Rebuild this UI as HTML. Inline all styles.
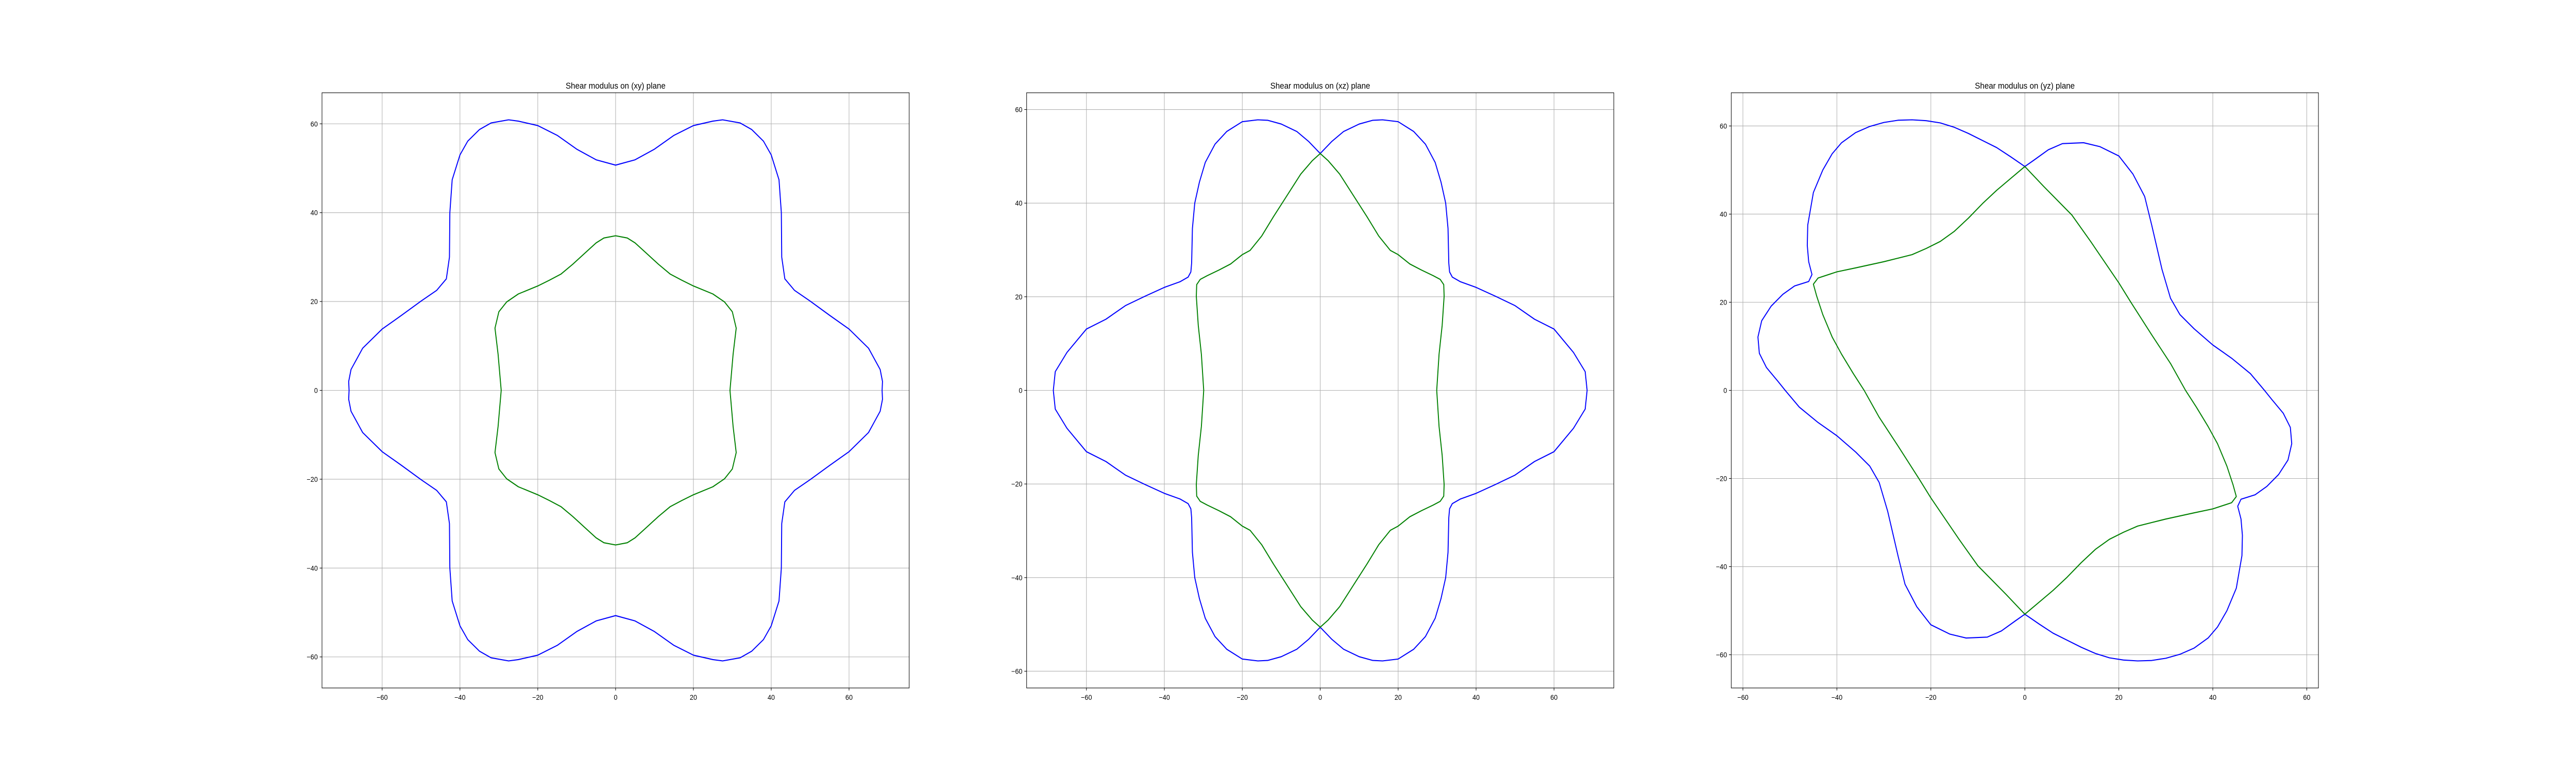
<!DOCTYPE html>
<html><head><meta charset="utf-8"><style>
html,body{margin:0;padding:0;background:#fff;overflow:hidden;width:100%;height:100%;}
svg{display:block;width:100vw;height:100vh;font-family:"Liberation Sans","DejaVu Sans",sans-serif;}
</style></head><body>
<svg id="fig" viewBox="0 0 5500 1500" preserveAspectRatio="none" xmlns="http://www.w3.org/2000/svg">
<rect x="0" y="0" width="5500" height="1500" fill="#fff"/>
</svg>
<script>
// ---- data (data units) ----
const xyBlueQX = [68.5,68.6,68,65,60,55,50,46,43.5,42.7,42.6,42,40,38,35,32,27.5,25,20,15,10,5,0];
const xyBlueQY = [0,2,4.7,9.5,13.8,16.9,20.1,22.5,25.1,30,40,47.4,53,56.1,58.7,60.2,60.9,60.6,59.6,57.4,54.3,51.9,50.7];
const xyGreenQX = [29.4,30.2,31,30,28,25,20,17,14,11,8,5,3,0];
const xyGreenQY = [0,8.1,14,17.7,19.9,21.7,23.5,24.8,26.2,28.4,30.8,33.2,34.3,34.8];
const xzBlueQX = [68.5,68,65,60,55,50,45,40,36,33.9,33.2,33,32.8,32.2,31,29.5,27,24,20,16,13.5,10,6,3,0];
const xzBlueQY = [0,4,8.1,13.1,15.2,18.1,20.1,22,23.2,24.2,25.3,27.2,34.6,40,44.5,48.7,52.6,55.3,57.4,57.8,57.7,56.9,55.3,53.2,50.6];
const xzGreenQX = [29.9,30.5,31.3,31.8,31.7,30.8,29,26,23,20,18,15,12,9,5,2,0];
const xzGreenQY = [0,7.7,13.9,20.1,22.6,23.7,24.5,25.7,27,29,29.9,33,37.1,41,46.2,49.1,50.6];
const yzBlueHX = [51,48,44,40,36,33,31,29.2,28,27,25.5,23,20,16,12.5,8,5,2,0,-3,-6,-9,-12,-15,-18,-21,-24,-27,-30,-33,-36,-39,-41,-43,-45,-46.2,-46.3,-46,-45.3,-46,-49,-51.5,-54,-56,-56.8,-56.5,-55,-52.5,-51];
const yzBlueHY = [0,3.8,7.3,10.3,14,17.2,20.9,27.4,32.9,37.5,44,49.1,53.2,55.3,56.2,56,54.6,52.3,50.8,53,55.1,56.7,58.3,59.7,60.7,61.2,61.4,61.3,60.8,59.9,58.5,56.2,53.7,50,44.9,37.5,32.9,29.2,26.3,24.7,23.7,21.8,19.1,15.8,12.1,8.4,5.2,2,0];
const yzGreenHX = [34.2,31,27,22.5,20,14,10,4,0,-3,-6,-9,-12,-15,-18,-21,-24,-27,-30,-33,-36,-40,-44,-45,-44.3,-43,-41,-39,-36.5,-34.2];
const yzGreenHY = [0,6.1,12.6,20.1,24.4,33.8,39.8,46.3,50.8,48.1,45.4,42.4,39.1,36.1,33.8,32.2,30.8,30,29.2,28.5,27.8,26.9,25.5,24.1,21.4,17.2,12.1,8.2,3.8,0];
const tickValues = [-60,-40,-20,0,20,40,60];
const titles = ["Shear modulus on (xy) plane","Shear modulus on (xz) plane","Shear modulus on (yz) plane"];

const NS="http://www.w3.org/2000/svg";
const svg=document.getElementById('fig');
function mk(tag,attrs,parent){const e=document.createElementNS(NS,tag);for(const k in attrs)e.setAttribute(k,attrs[k]);(parent||svg).appendChild(e);return e;}

function mirror4(qx,qy){
  const X=[],Y=[];
  for(let i=0;i<qx.length;i++){X.push(qx[i]);Y.push(qy[i]);}
  for(let i=qx.length-1;i>=0;i--){X.push(-qx[i]);Y.push(qy[i]);}
  for(let i=0;i<qx.length;i++){X.push(-qx[i]);Y.push(-qy[i]);}
  for(let i=qx.length-1;i>=0;i--){X.push(qx[i]);Y.push(-qy[i]);}
  return [X,Y];
}
function pointSym(hx,hy){
  const X=hx.slice(),Y=hy.slice();
  for(let i=0;i<hx.length;i++){X.push(-hx[i]);Y.push(-hy[i]);}
  return [X,Y];
}

const axW=1253.7, axL0=687.5, axTop=180, axBot=1335;
const panels=[
  {name:'xy',curves:[mirror4(xyBlueQX,xyBlueQY),mirror4(xyGreenQX,xyGreenQY)]},
  {name:'xz',curves:[mirror4(xzBlueQX,xzBlueQY),mirror4(xzGreenQX,xzGreenQY)]},
  {name:'yz',curves:[pointSym(yzBlueHX,yzBlueHY),pointSym(yzGreenHX,yzGreenHY)]}
];
const colors=['#0000ff','#008000'];

panels.forEach((p,pi)=>{
  const L=axL0+pi*axW*1.2, R=L+axW;
  let xmin=1e9,xmax=-1e9,ymin=1e9,ymax=-1e9;
  p.curves.forEach(c=>{c[0].forEach(v=>{xmin=Math.min(xmin,v);xmax=Math.max(xmax,v);});c[1].forEach(v=>{ymin=Math.min(ymin,v);ymax=Math.max(ymax,v);});});
  const dx=(xmax-xmin)*0.05, dy=(ymax-ymin)*0.05;
  xmin-=dx;xmax+=dx;ymin-=dy;ymax+=dy;
  const sx=v=>L+(v-xmin)/(xmax-xmin)*axW;
  const sy=v=>axBot-(v-ymin)/(ymax-ymin)*(axBot-axTop);
  const g=mk('g',{});
  
  
  tickValues.forEach(t=>{
    if(t>=xmin&&t<=xmax){
      const x=sx(t);
      const gl=mk('line',{x1:x,x2:x,y1:axTop,y2:axBot,stroke:'#b0b0b0','stroke-width':1.1},g);
      
      
      mk('line',{x1:x,x2:x,y1:axBot,y2:axBot+4.9,stroke:'#000','stroke-width':1.1},g);
      const tx=mk('text',{x:x,y:axBot+23,'font-size':14,'text-anchor':'middle',fill:'#000'},g);
      tx.textContent=(t<0?'\u2212'+(-t):String(t));
      
      
    }
    if(t>=ymin&&t<=ymax){
      const y=sy(t);
      const gl=mk('line',{x1:L,x2:R,y1:y,y2:y,stroke:'#b0b0b0','stroke-width':1.1},g);
      
      
      mk('line',{x1:L-4.9,x2:L,y1:y,y2:y,stroke:'#000','stroke-width':1.1},g);
      const ty=mk('text',{x:L-9,y:y+5,'font-size':14,'text-anchor':'end',fill:'#000'},g);
      ty.textContent=(t<0?'\u2212'+(-t):String(t));
      
      
    }
  });
  p.curves.forEach((c,ci)=>{
    let d='';
    for(let i=0;i<c[0].length;i++){d+=(i?'L':'M')+sx(c[0][i]).toFixed(2)+','+sy(c[1][i]).toFixed(2);}
    d+='Z';
    const path=mk('path',{d:d,fill:'none',stroke:colors[ci],'stroke-width':2.1,'stroke-linejoin':'round'},g);
    
    
  });
  const fr=mk('rect',{x:L,y:axTop,width:axW,height:axBot-axTop,fill:'none',stroke:'#000','stroke-width':1.1},g);
  
  
  const tt=mk('text',{x:L+axW/2,y:axTop-8,'font-size':16.7,'text-anchor':'middle',fill:'#000'},g);
  tt.textContent=titles[pi];
  
  
});
</script>
</body></html>
